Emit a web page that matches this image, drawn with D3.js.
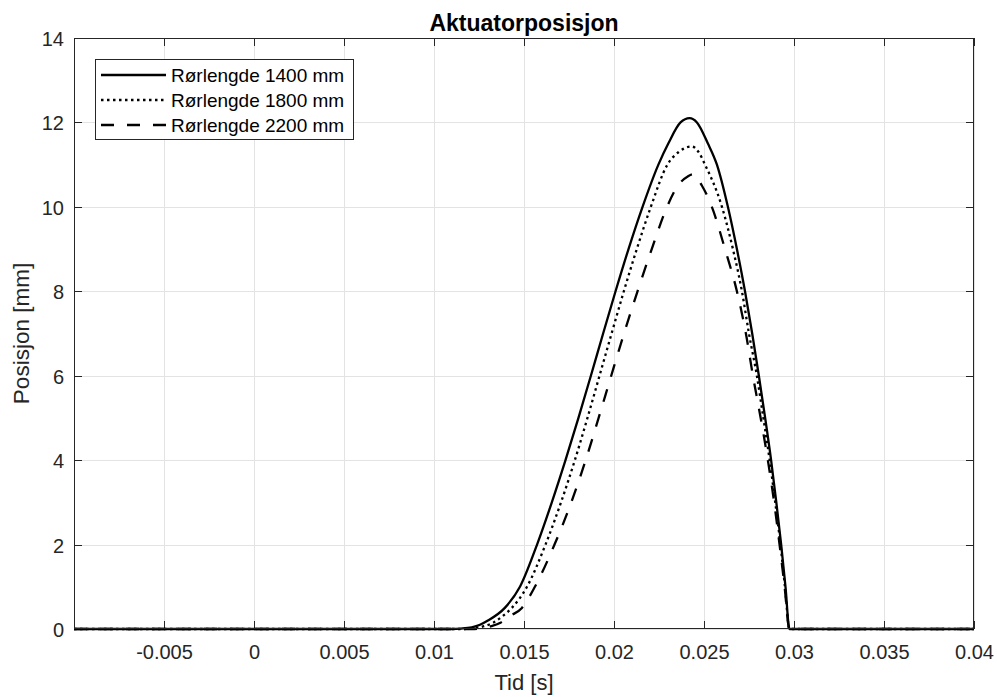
<!DOCTYPE html>
<html>
<head>
<meta charset="utf-8">
<script src="https://cdn.jsdelivr.net/npm/d3@7/dist/d3.min.js"></script>
<style>
  html, body { margin: 0; padding: 0; background: #fff; }
  svg { display: block; font-family: "Liberation Sans", Arial, sans-serif; }
</style>
</head>
<body>
<svg id="chart" width="997" height="697"></svg>
<script>
// ---------------- data ----------------
const chartTitle = "Aktuatorposisjon";
const xLabel = "Tid [s]";
const yLabel = "Posisjon [mm]";
const seriesNames = ["Rørlengde 1400 mm", "Rørlengde 1800 mm", "Rørlengde 2200 mm"];

const time1400 = [-0.00999, 0.0110, 0.0115, 0.0121, 0.01256, 0.0130, 0.01394, 0.01478, 0.01573, 0.01655, 0.01731, 0.01803, 0.01872, 0.0194, 0.02009, 0.02081, 0.02159, 0.02247, 0.02302, 0.0237, 0.0242, 0.02461, 0.02522, 0.02572, 0.02633, 0.02683, 0.02728, 0.02768, 0.02805, 0.0284, 0.02873, 0.02902, 0.02929, 0.02953, 0.02975, 0.04];
const pos1400  = [0, 0, 0.01, 0.04, 0.1, 0.2, 0.5, 1, 2, 3, 4, 5, 6, 7, 8, 9, 10, 11, 11.5, 12, 12.1, 12, 11.5, 11, 10, 9, 8, 7, 6, 5, 4, 3, 2, 1, 0, 0];

const time1800 = [-0.00999, 0.0117, 0.0123, 0.0128, 0.0133, 0.0138, 0.01433, 0.01517, 0.0162, 0.01706, 0.01783, 0.01853, 0.0192, 0.01987, 0.02055, 0.02127, 0.02205, 0.02297, 0.0236, 0.02433, 0.0247, 0.02506, 0.026, 0.02661, 0.02711, 0.0275, 0.02794, 0.0283, 0.02865, 0.02896, 0.02925, 0.0295, 0.02975, 0.04];
const pos1800  = [0, 0, 0.02, 0.07, 0.15, 0.3, 0.5, 1, 2, 3, 4, 5, 6, 7, 8, 9, 10, 11, 11.3, 11.43, 11.3, 11, 10, 9, 8, 7, 6, 5, 4, 3, 2, 1, 0, 0];

const time2200 = [-0.00999, 0.0121, 0.0127, 0.0132, 0.0137, 0.0142, 0.01489, 0.01561, 0.0167, 0.01763, 0.01843, 0.01915, 0.01985, 0.02056, 0.02131, 0.0221, 0.02295, 0.02355, 0.0241, 0.02439, 0.02489, 0.02544, 0.02617, 0.02683, 0.02733, 0.02772, 0.02815, 0.02855, 0.0289, 0.0292, 0.02948, 0.02975, 0.04];
const pos2200  = [0, 0, 0.02, 0.07, 0.15, 0.3, 0.5, 1, 2, 3, 4, 5, 6, 7, 8, 9, 10, 10.5, 10.72, 10.77, 10.5, 10, 9, 8, 7, 6, 5, 4, 3, 2, 1, 0, 0];

const xDomain = [-0.00999, 0.04];
const yDomain = [0, 14];
const xTickValues = [-0.005, 0, 0.005, 0.01, 0.015, 0.02, 0.025, 0.03, 0.035, 0.04];
const xTickLabels = ["-0.005", "0", "0.005", "0.01", "0.015", "0.02", "0.025", "0.03", "0.035", "0.04"];
const yTickValues = [0, 2, 4, 6, 8, 10, 12, 14];
const yTickLabels = ["0", "2", "4", "6", "8", "10", "12", "14"];

// ---------------- layout ----------------
const plot = { left: 74, right: 974, top: 38, bottom: 629 };
const svg = d3.select("#chart");

const x = d3.scaleLinear().domain(xDomain).range([plot.left, plot.right]);
const y = d3.scaleLinear().domain(yDomain).range([plot.bottom, plot.top]);

const axisColor = "#262626";
const gridColor = "#e3e3e3";
const tickLen = 8;

// grid
const grid = svg.append("g");
grid.selectAll("line.gx").data(xTickValues).join("line")
  .attr("x1", d => Math.round(x(d)) + 0.5).attr("x2", d => Math.round(x(d)) + 0.5)
  .attr("y1", plot.top).attr("y2", plot.bottom)
  .attr("stroke", gridColor).attr("stroke-width", 1);
grid.selectAll("line.gy").data(yTickValues).join("line")
  .attr("y1", d => Math.round(y(d)) + 0.5).attr("y2", d => Math.round(y(d)) + 0.5)
  .attr("x1", plot.left).attr("x2", plot.right)
  .attr("stroke", gridColor).attr("stroke-width", 1);

// axes via d3 axis generators (ticks inward)
const fmtX = d => xTickLabels[xTickValues.indexOf(d)];
const fmtY = d => yTickLabels[yTickValues.indexOf(d)];

const axB = svg.append("g").attr("transform", `translate(0,${plot.bottom})`)
  .call(d3.axisBottom(x).tickValues(xTickValues).tickFormat(fmtX).tickSizeInner(-tickLen).tickSizeOuter(0));
const axT = svg.append("g").attr("transform", `translate(0,${plot.top})`)
  .call(d3.axisTop(x).tickValues(xTickValues).tickFormat("").tickSizeInner(-tickLen).tickSizeOuter(0));
const axL = svg.append("g").attr("transform", `translate(${plot.left},0)`)
  .call(d3.axisLeft(y).tickValues(yTickValues).tickFormat(fmtY).tickSizeInner(-tickLen).tickSizeOuter(0));
const axR = svg.append("g").attr("transform", `translate(${plot.right},0)`)
  .call(d3.axisRight(y).tickValues(yTickValues).tickFormat("").tickSizeInner(-tickLen).tickSizeOuter(0));

[axB, axT, axL, axR].forEach(g => {
  g.select(".domain").remove();
  g.selectAll(".tick line").attr("stroke", axisColor).attr("stroke-width", 1);
  g.selectAll("text").attr("fill", axisColor).attr("font-family", "Liberation Sans, Arial, sans-serif");
});
axB.selectAll("text").attr("font-size", 20).attr("dy", "0.71em");
axL.selectAll("text").attr("font-size", 20).attr("dy", "0.36em");
// crisp ticks
axB.selectAll(".tick").attr("transform", d => `translate(${Math.round(x(d)) + 0.5},0)`);
axT.selectAll(".tick").attr("transform", d => `translate(${Math.round(x(d)) + 0.5},0)`);
axL.selectAll(".tick").attr("transform", d => `translate(0,${Math.round(y(d)) + 0.5})`);
axR.selectAll(".tick").attr("transform", d => `translate(0,${Math.round(y(d)) + 0.5})`);
axB.selectAll(".tick text").attr("y", 16);
axL.selectAll(".tick text").attr("x", -10);

// clip
svg.append("clipPath").attr("id", "clip").append("rect")
  .attr("x", plot.left).attr("y", plot.top - 2)
  .attr("width", plot.right - plot.left).attr("height", plot.bottom - plot.top + 4);

// lines
const series = [
  { name: seriesNames[0], t: time1400, v: pos1400, dash: null },
  { name: seriesNames[1], t: time1800, v: pos1800, dash: "2.5,3.5" },
  { name: seriesNames[2], t: time2200, v: pos2200, dash: "13,13" }
];
const line = d3.line().x(d => x(d[0])).y(d => y(d[1])).curve(d3.curveMonotoneX);
const lines = svg.append("g").attr("clip-path", "url(#clip)");
series.forEach(s => {
  const pts = s.t.map((t, i) => [t, s.v[i]]);
  lines.append("path").datum(pts).attr("d", line)
    .attr("fill", "none").attr("stroke", "#000").attr("stroke-width", 2.3)
    .attr("stroke-linejoin", "round")
    .attr("stroke-dasharray", s.dash);
});

// box
svg.append("rect")
  .attr("x", plot.left + 0.5).attr("y", plot.top + 0.5)
  .attr("width", plot.right - plot.left - 1).attr("height", plot.bottom - plot.top - 1)
  .attr("fill", "none").attr("stroke", axisColor).attr("stroke-width", 1);

// title & labels
svg.append("text").attr("x", (plot.left + plot.right) / 2).attr("y", 31)
  .attr("text-anchor", "middle").attr("font-size", 23).attr("font-weight", "bold")
  .attr("fill", "#000").text(chartTitle);
svg.append("text").attr("x", (plot.left + plot.right) / 2).attr("y", 690)
  .attr("text-anchor", "middle").attr("font-size", 22).attr("fill", axisColor).text(xLabel);
svg.append("text").attr("transform", `translate(29,${(plot.top + plot.bottom) / 2}) rotate(-90)`)
  .attr("text-anchor", "middle").attr("font-size", 22.5).attr("fill", axisColor).text(yLabel);

// legend
const lg = svg.append("g");
lg.append("rect").attr("x", 95.5).attr("y", 59.5).attr("width", 258).attr("height", 80)
  .attr("fill", "#fff").attr("stroke", axisColor).attr("stroke-width", 1);
const rowY = [75, 100, 125];
series.forEach((s, i) => {
  lg.append("line").attr("x1", 101).attr("x2", 166).attr("y1", rowY[i]).attr("y2", rowY[i])
    .attr("stroke", "#000").attr("stroke-width", 2.3).attr("stroke-dasharray", s.dash);
  lg.append("text").attr("x", 171).attr("y", rowY[i]).attr("dy", "0.36em")
    .attr("font-size", 19).attr("fill", "#000").text(s.name);
});
</script>
</body>
</html>
